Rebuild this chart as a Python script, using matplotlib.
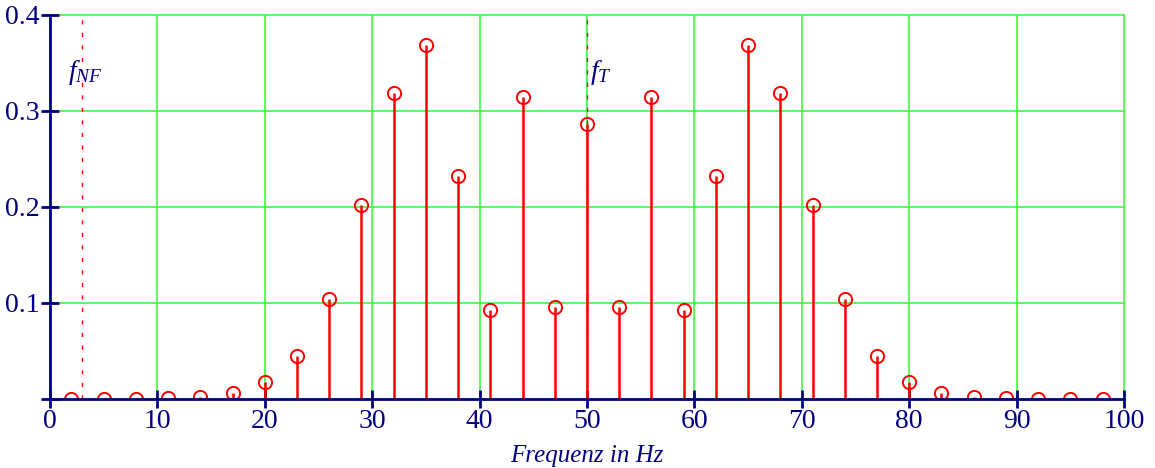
import matplotlib
matplotlib.use("Agg")
import matplotlib.pyplot as plt
import numpy as np

# spectrum lines (Hz) and amplitudes
freq = [2, 5, 8, 11, 14, 17, 20, 23, 26, 29, 32, 35, 38, 41, 44, 47, 50,
        53, 56, 59, 62, 65, 68, 71, 74, 77, 80, 83, 86, 89, 92, 95, 98]
amp = [0.0, 0.0, 0.0, 0.0005, 0.002, 0.0056, 0.0177, 0.044, 0.1035, 0.202,
       0.3188, 0.3684, 0.2317, 0.092, 0.314, 0.0958, 0.2858,
       0.0958, 0.314, 0.092, 0.2317, 0.3684, 0.3188, 0.202, 0.1035,
       0.044, 0.0177, 0.0056, 0.002, 0.0005, 0.0, 0.0, 0.0]
f_nf = 3
f_t = 50
xticks = list(range(0, 101, 10))
yticks = [0, 0.1, 0.2, 0.3, 0.4]
ytick_labels = ["", "0.1", "0.2", "0.3", "0.4"]

navy = "#000080"
plt.rcParams["font.family"] = "Liberation Serif"
plt.rcParams["mathtext.fontset"] = "custom"
plt.rcParams["mathtext.it"] = "Liberation Serif:italic"
plt.rcParams["mathtext.rm"] = "Liberation Serif"

fig = plt.figure(figsize=(11.55, 4.68), dpi=100)
ax = fig.add_axes([0.0433, 0.1481, 0.9299, 0.8205])

ax.grid(True, color="#3cfc3c", linewidth=1.2, zorder=0)
ax.set_axisbelow(True)

ml, sl, bl = ax.stem(freq, amp, linefmt="r-", markerfmt="ro", basefmt=" ")
plt.setp(sl, linewidth=1.8, color="red")
plt.setp(ml, markerfacecolor="none", markeredgecolor="red",
         markersize=9.5, markeredgewidth=1.4)

ax.axvline(f_nf, color="red", linestyle=(0, (3, 6)), linewidth=1.0)
ax.axvline(f_t, color="red", linestyle=(0, (3, 6)), linewidth=1.0)
ax.text(f_nf - 1.3, 0.333, r"$f_{NF}$", color=navy, fontsize=20)
ax.text(f_t + 0.25, 0.333, r"$f_{T}$", color=navy, fontsize=20)

ax.set_xlim(0, 100)
ax.set_ylim(0, 0.4)
ax.set_xticks(xticks)
ax.set_yticks(yticks)
ax.set_yticklabels(ytick_labels)
ax.tick_params(direction="inout", length=13, width=2, color=navy,
               labelcolor=navy, labelsize=20)
ax.tick_params(axis="x", pad=1)
ax.tick_params(axis="y", pad=1)

# keep the grid lines at the plot edges fully visible
for gl in ax.get_xgridlines() + ax.get_ygridlines():
    gl.set_clip_on(False)

for s in ["top", "right"]:
    ax.spines[s].set_visible(False)
for s in ["left", "bottom"]:
    ax.spines[s].set_color(navy)
    ax.spines[s].set_linewidth(2)
    ax.spines[s].set_zorder(3)

ax.set_xlabel("Frequenz in Hz", color=navy, fontsize=18, style="italic",
              labelpad=8)

fig.savefig("out.png", dpi=100)
